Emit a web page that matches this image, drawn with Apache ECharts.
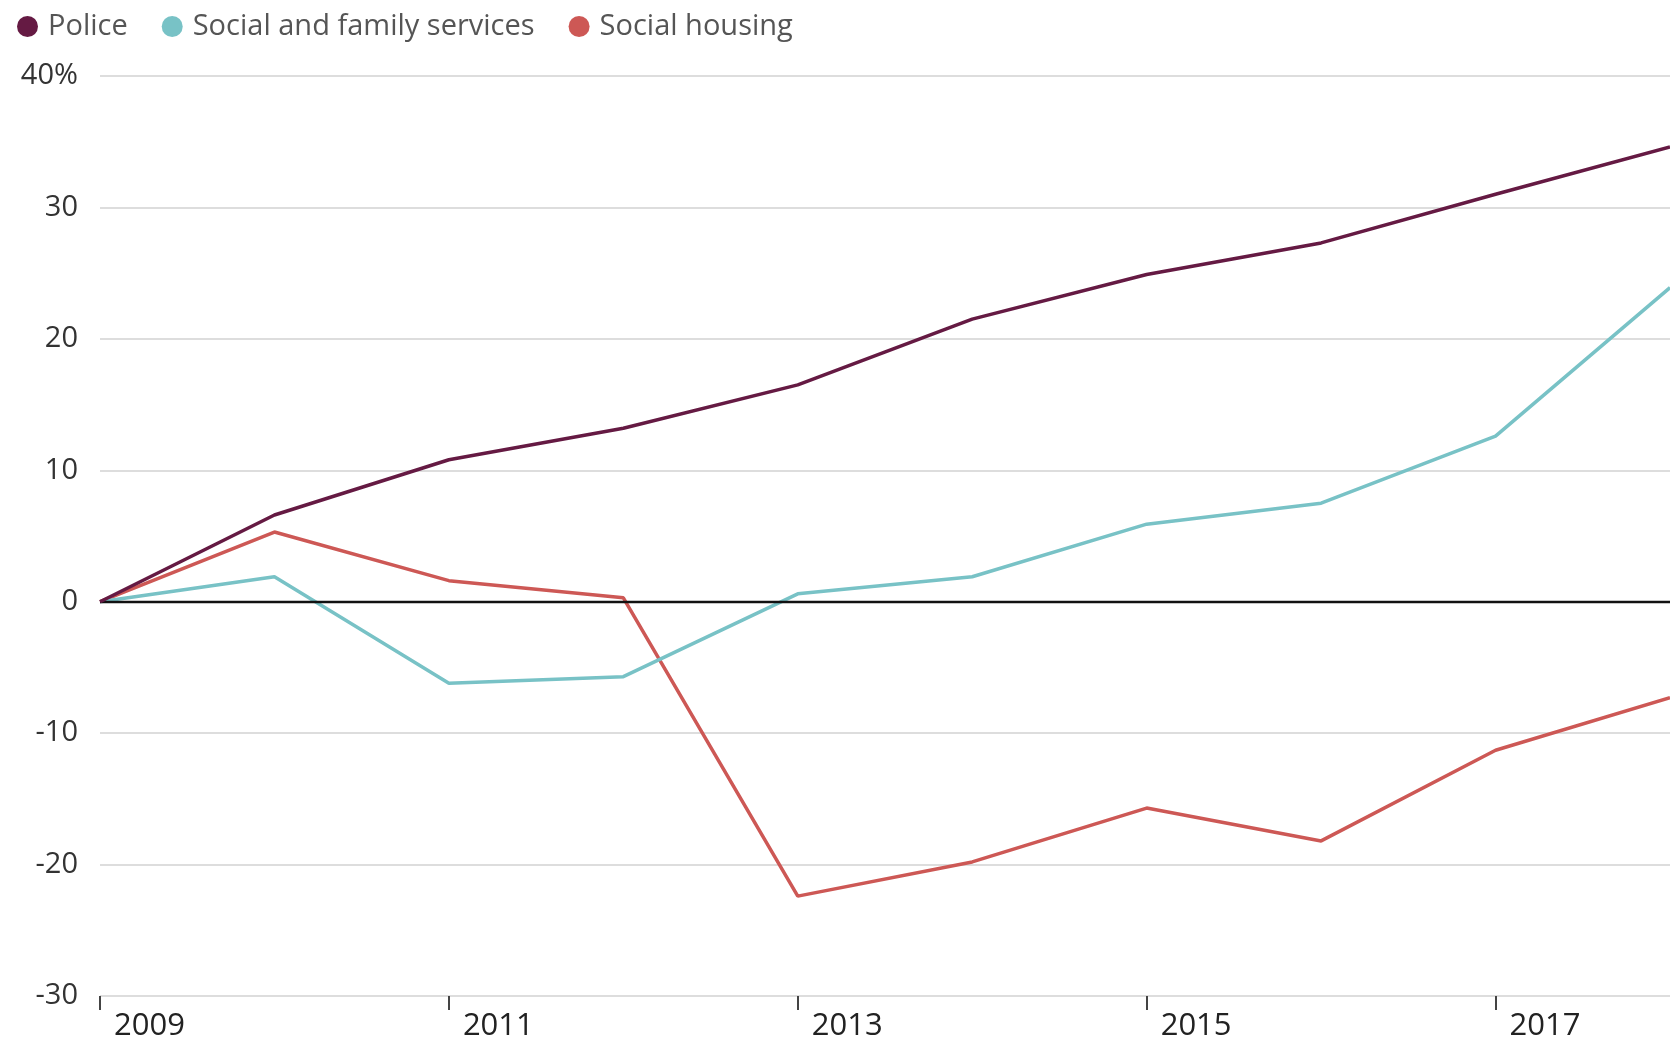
<!DOCTYPE html>
<html>
<head>
<meta charset="utf-8">
<script src="https://cdn.jsdelivr.net/npm/echarts@6/dist/echarts.min.js"></script>
<style>
  html, body { margin: 0; padding: 0; background: #ffffff; }
  #chart { width: 1670px; height: 1042px; }
</style>
</head>
<body>
<div id="chart"></div>
<script>
// Change in spending since 2009, %
const years = [2009, 2010, 2011, 2012, 2013, 2014, 2015, 2016, 2017, 2018];
const police = [0, 6.6, 10.8, 13.2, 16.5, 21.5, 24.9, 27.3, 31.0, 34.6];
const socialFamilyServices = [0, 1.9, -6.2, -5.7, 0.6, 1.9, 5.9, 7.5, 12.6, 23.9];
const socialHousing = [0, 5.3, 1.6, 0.3, -22.4, -19.8, -15.7, -18.2, -11.3, -7.3];

const seriesNames = ['Police', 'Social and family services', 'Social housing'];
const seriesColors = ['#651a43', '#78c2c6', '#cd5855'];

const pairs = arr => years.map((y, i) => [y, arr[i]]);

const chart = echarts.init(document.getElementById('chart'), null, { renderer: 'canvas' });

const lineSeries = [police, socialFamilyServices, socialHousing].map((vals, i) => ({
  name: seriesNames[i],
  type: 'line',
  data: pairs(vals),
  showSymbol: false,
  symbol: 'circle',
  color: seriesColors[i],
  lineStyle: { width: 3.5, color: seriesColors[i] },
  z: 3 + (2 - i),
  animation: false
}));

// black zero baseline
lineSeries[0].markLine = {
  silent: true,
  symbol: ['none', 'none'],
  label: { show: false },
  lineStyle: { color: '#111111', width: 2.4, type: 'solid' },
  data: [{ yAxis: 0 }],
  animation: false
};

chart.setOption({
  backgroundColor: '#ffffff',
  animation: false,
  legend: {
    left: 12,
    top: 7,
    icon: 'circle',
    itemWidth: 21,
    itemHeight: 21,
    itemGap: 34,
    textStyle: {
      fontFamily: 'Open Sans',
      fontSize: 29,
      color: '#555555',
      padding: [0, 0, 0, 5]
    },
    data: seriesNames
  },
  grid: {
    left: 100,
    top: 76,
    width: 1580,
    bottom: 43,
    containLabel: false
  },
  xAxis: {
    type: 'value',
    min: 2009,
    max: 2018,
    interval: 2,
    axisLine: { show: false, onZero: false },
    splitLine: { show: false },
    axisTick: {
      show: true,
      length: 14,
      lineStyle: { color: '#444444', width: 2 }
    },
    axisLabel: {
      showMaxLabel: false,
      align: 'left',
      margin: 15,
      padding: [0, 0, 0, 14],
      fontFamily: '"Liberation Sans Narrow", "Open Sans", sans-serif',
      fontSize: 31,
      color: '#222222',
      formatter: v => String(v)
    }
  },
  yAxis: {
    type: 'value',
    min: -30,
    max: 40,
    interval: 10,
    axisLine: { show: false },
    axisTick: { show: false },
    splitLine: { lineStyle: { color: '#dddddd', width: 2 } },
    axisLabel: {
      margin: 22,
      fontFamily: 'Open Sans',
      fontSize: 29,
      color: '#333333',
      formatter: v => (v === 40 ? v + '%' : String(v))
    }
  },
  series: lineSeries
});
</script>
</body>
</html>
